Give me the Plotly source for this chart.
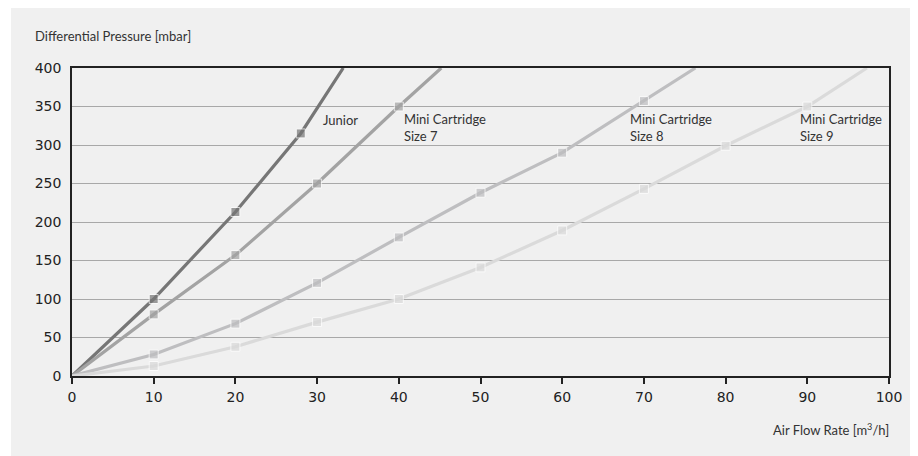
import plotly.graph_objects as go

# Data
junior_x = [0, 10, 20, 28, 33.2]
junior_y = [0, 100, 213, 315, 400]
s7_x = [0, 10, 20, 30, 40, 45.2]
s7_y = [0, 80, 157, 250, 350, 400]
s8_x = [0, 10, 20, 30, 40, 50, 60, 70, 76.3]
s8_y = [0, 28, 68, 121, 180, 238, 290, 357, 400]
s9_x = [0, 10, 20, 30, 40, 50, 60, 70, 80, 90, 97.3]
s9_y = [0, 13, 38, 70, 100, 141, 189, 243, 299, 350, 400]

series = [
    ("Junior", junior_x, junior_y, "#767676"),
    ("Mini Cartridge Size 7", s7_x, s7_y, "#a3a3a3"),
    ("Mini Cartridge Size 8", s8_x, s8_y, "#bebec0"),
    ("Mini Cartridge Size 9", s9_x, s9_y, "#dadada"),
]

labels = ["Junior", "Mini Cartridge<br>Size 7", "Mini Cartridge<br>Size 8", "Mini Cartridge<br>Size 9"]
label_x = [30.5, 40.4, 68.0, 88.8]
label_y = [332, 323, 323, 323]

x_ticks = list(range(0, 101, 10))
y_ticks = list(range(0, 401, 50))

fig = go.Figure()
for name, xs, ys, col in series:
    sizes = [0] + [9] * (len(xs) - 2) + [0]
    fig.add_trace(go.Scatter(
        x=xs, y=ys, mode="lines+markers", name=name,
        line=dict(color=col, width=3.2),
        marker=dict(symbol="square", size=sizes, color=col),
        cliponaxis=True, showlegend=False,
    ))

for t, lx, ly in zip(labels, label_x, label_y):
    fig.add_annotation(x=lx, y=ly, text=t, showarrow=False, xanchor="left",
                       yanchor="middle", align="left",
                       font=dict(family="Lato", size=13, color="#333333"))

fig.add_annotation(xref="paper", yref="paper", x=-0.0477, y=1.104,
                   text="Differential Pressure [mbar]", showarrow=False,
                   xanchor="left", yanchor="middle",
                   font=dict(family="Lato", size=13, color="#333333"))
fig.add_annotation(xref="paper", yref="paper", x=1.0024, y=-0.175,
                   text="Air Flow Rate [m<sup>3</sup>/h]", showarrow=False,
                   xanchor="right", yanchor="middle",
                   font=dict(family="Lato", size=13, color="#333333"))

# thin white strip at the left of the page
fig.add_shape(type="rect", xref="paper", yref="paper", x0=-0.09, x1=-0.0747,
              y0=-0.4, y1=1.4, fillcolor="white", line_width=0, layer="below")

fig.update_layout(
    width=910, height=448,
    margin=dict(l=64, r=29, t=60, b=80),
    paper_bgcolor="#f0f0f0", plot_bgcolor="#f0f0f0",
    font=dict(family="DejaVu Sans", size=14, color="#222222"),
)
fig.update_xaxes(range=[0, 100], tickvals=x_ticks, showgrid=False,
                 showline=True, linecolor="#222222", linewidth=1.5, mirror=True,
                 ticks="outside", ticklen=6, tickcolor="#222222", tickwidth=1.5,
                 zeroline=False, ticklabelstandoff=1)
fig.update_yaxes(range=[0, 400], tickvals=y_ticks, showgrid=True,
                 gridcolor="#a8a8a8", gridwidth=1.2,
                 showline=True, linecolor="#222222", linewidth=1.5, mirror=True,
                 ticks="", zeroline=False, ticklabelstandoff=6)

fig.write_html("out.html")
